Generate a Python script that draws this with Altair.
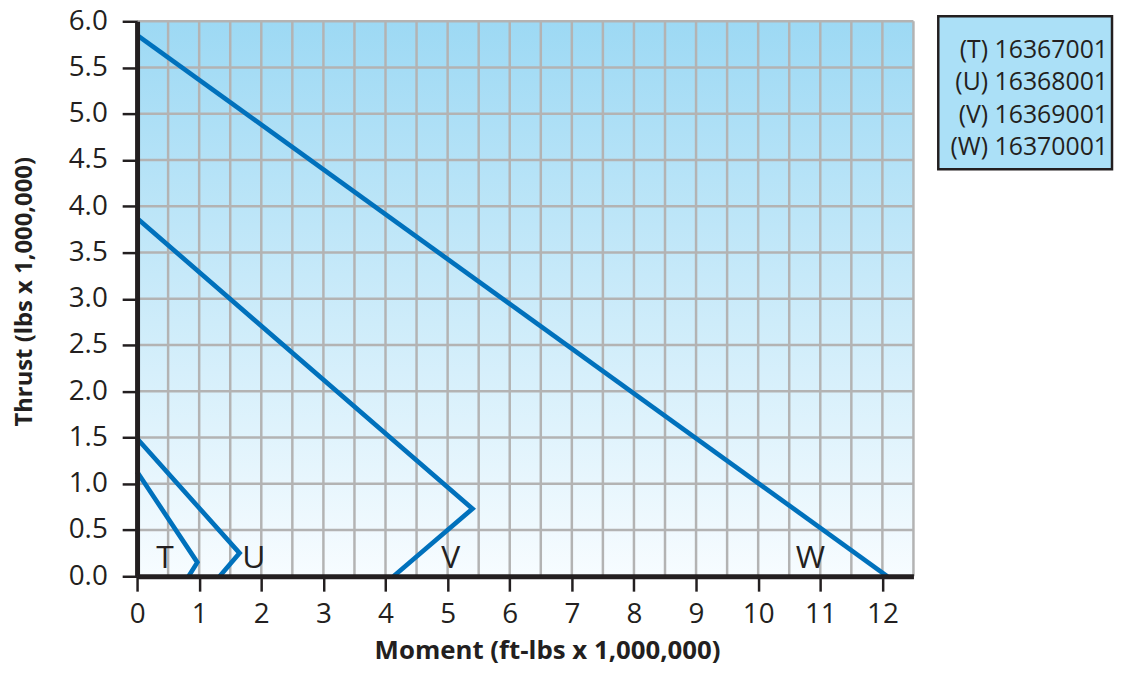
import altair as alt
import pandas as pd

# ---- data ----
x_ticks = list(range(0, 13))
y_ticks = [0.0, 0.5, 1.0, 1.5, 2.0, 2.5, 3.0, 3.5, 4.0, 4.5, 5.0, 5.5, 6.0]
x_grid = [0.5, 1.0, 1.5, 2.0, 2.5, 3.0, 3.5, 4.0, 4.5, 5.0, 5.5, 6.0, 6.5,
          7.0, 7.5, 8.0, 8.5, 9.0, 9.5, 10.0, 10.5, 11.0, 11.5, 12.0, 12.5]
y_grid = [0.5, 1.0, 1.5, 2.0, 2.5, 3.0, 3.5, 4.0, 4.5, 5.0, 5.5, 6.0]

t_x = [0.0, 0.97, 0.83]
t_y = [1.13, 0.15, 0.0]
u_x = [0.0, 1.65, 1.33]
u_y = [1.49, 0.25, 0.0]
v_x = [0.0, 5.40, 4.13]
v_y = [3.87, 0.73, 0.0]
w_x = [0.0, 12.08]
w_y = [5.85, 0.0]

label_names = ["T", "U", "V", "W"]
label_x = [0.45, 1.88, 5.05, 10.84]
label_y = [0.20, 0.20, 0.20, 0.20]

legend_lines = ["(T) 16367001", "(U) 16368001", "(V) 16369001", "(W) 16370001"]

# ---- tables ----
rows = []
for name, xs, ys in [("T", t_x, t_y), ("U", u_x, u_y), ("V", v_x, v_y), ("W", w_x, w_y)]:
    for i, (a, b) in enumerate(zip(xs, ys)):
        rows.append({"series": name, "order": i, "x": a, "y": b})
lines_df = pd.DataFrame(rows)
labels_df = pd.DataFrame({"name": label_names, "x": label_x, "y": label_y})
xg_df = pd.DataFrame({"v": x_grid})
yg_df = pd.DataFrame({"v": y_grid})
bg_df = pd.DataFrame({"x": [0.0], "x2": [12.5], "y": [0.0], "y2": [6.0]})
leg_df = pd.DataFrame({"t": ["\n".join(legend_lines)]})

FONT = "Open Sans"
DARK = "#231f20"
BLUE = "#0071bc"

xscale = alt.Scale(domain=[0, 12.5], nice=False, zero=False)
yscale = alt.Scale(domain=[0, 6], nice=False, zero=False)

xaxis = alt.Axis(
    values=x_ticks, format="d", grid=False, zindex=1,
    labelFont=FONT, labelFontSize=28, labelColor=DARK, labelPadding=10,
    domainColor=DARK, domainWidth=5, tickColor=DARK, tickWidth=2.5, tickSize=15,
    labelFlush=False,
    title="Moment (ft-lbs x 1,000,000)", titleFont=FONT, titleFontSize=26,
    titleFontWeight="bold", titleColor=DARK, titleX=413, titleY=75,
    titleAlign="center", titleBaseline="middle",
)
yaxis = alt.Axis(
    values=y_ticks, format=".1f", grid=False, zindex=1,
    labelFont=FONT, labelFontSize=28, labelColor=DARK, labelPadding=15,
    domainColor=DARK, domainWidth=5, tickColor=DARK, tickWidth=2.5, tickSize=15,
    labelFlush=False,
    title="Thrust (lbs x 1,000,000)", titleFont=FONT, titleFontSize=24,
    titleFontWeight="bold", titleColor=DARK, titleX=-113, titleY=272,
    titleAngle=270, titleAlign="center", titleBaseline="middle",
)

X = lambda f: alt.X(f, type="quantitative", scale=xscale, axis=xaxis)
Y = lambda f: alt.Y(f, type="quantitative", scale=yscale, axis=yaxis)

gradient = {
    "gradient": "linear", "x1": 0, "x2": 0, "y1": 0, "y2": 1,
    "stops": [
        {"offset": 0, "color": "#9dd9f4"},
        {"offset": 1, "color": "#f7fcff"},
    ],
}

bg = alt.Chart(bg_df).mark_rect(fill=gradient, strokeWidth=0).encode(
    x=X("x"), x2="x2", y=Y("y"), y2="y2"
)

xgrid = alt.Chart(xg_df).mark_rule(color="#b3b3b3", strokeWidth=2.5).encode(x=X("v"))
ygrid = alt.Chart(yg_df).mark_rule(color="#b3b3b3", strokeWidth=2.5).encode(y=Y("v"))

lines = alt.Chart(lines_df).mark_line(color=BLUE, strokeWidth=4.7, strokeJoin="miter").encode(
    x=X("x"), y=Y("y"), detail="series:N", order="order:Q"
)

labels = alt.Chart(labels_df).mark_text(
    font=FONT, fontSize=32, color=DARK, align="center", baseline="middle"
).encode(x=X("x"), y=Y("y"), text="name:N")

leg_box = alt.Chart(leg_df).mark_rect(
    fill="#abe0f7", stroke=DARK, strokeWidth=2.5
).encode(
    x=alt.value(807), x2=alt.value(982), y=alt.value(-5), y2=alt.value(149)
)
leg_text = alt.Chart(leg_df).mark_text(
    font=FONT, fontSize=25, color=DARK, align="right", baseline="middle",
    lineBreak="\n", lineHeight=32.7
).encode(x=alt.value(978), y=alt.value(29), text="t:N")

chart = alt.layer(bg, xgrid, ygrid, lines, labels, leg_box, leg_text).properties(
    width=782, height=559,
    autosize=alt.AutoSizeParams(type="none"),
    padding={"left": 130, "top": 11, "right": 202, "bottom": 88},
    background="white",
).configure_view(stroke=None, clip=False)

chart.save("out.html", embed_options={"renderer": "svg", "actions": False})
